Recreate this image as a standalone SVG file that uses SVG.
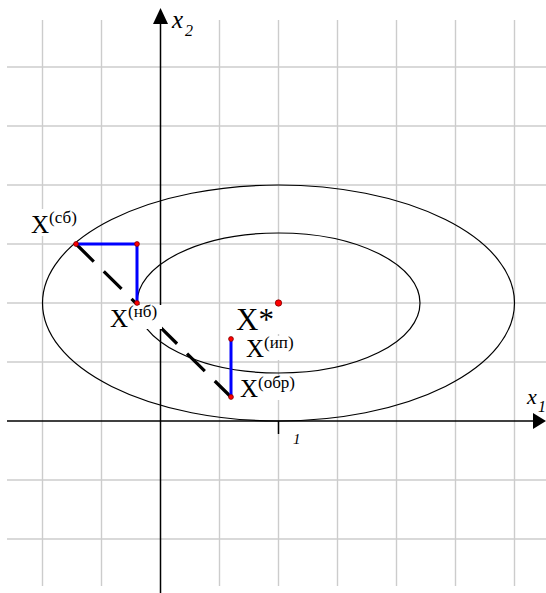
<svg xmlns="http://www.w3.org/2000/svg" width="546" height="593" viewBox="0 0 546 593">
<style>
.grid{stroke:#cccccc;stroke-width:1.4;fill:none}
.axis{stroke:#000;stroke-width:1.5;fill:none}
.ell{stroke:#000;stroke-width:1.2;fill:none}
.blue{stroke:#0000ff;stroke-width:3;fill:none}
.dash{stroke:#000;stroke-width:3.2;fill:none;stroke-dasharray:25 14}
.pt{fill:#ff0000;stroke:#800000;stroke-width:0.8}
.bg{fill:#fff}
.lbl{font-family:"Liberation Serif","Times New Roman",serif;fill:#000}
.big{font-size:25px}
.sup{font-size:17px}
.ax{font-family:"Liberation Serif","Times New Roman",serif;font-style:italic;fill:#000}
</style>
<rect width="546" height="593" fill="#fff"/>
<g id="grid" class="grid">
<line x1="42.5" y1="20" x2="42.5" y2="586"/>
<line x1="101.5" y1="20" x2="101.5" y2="586"/>
<line x1="219.5" y1="20" x2="219.5" y2="586"/>
<line x1="278.5" y1="20" x2="278.5" y2="586"/>
<line x1="337.5" y1="20" x2="337.5" y2="586"/>
<line x1="396.5" y1="20" x2="396.5" y2="586"/>
<line x1="455.5" y1="20" x2="455.5" y2="586"/>
<line x1="514.5" y1="20" x2="514.5" y2="586"/>
<line x1="7" y1="67" x2="546" y2="67"/>
<line x1="7" y1="126" x2="546" y2="126"/>
<line x1="7" y1="185" x2="546" y2="185"/>
<line x1="7" y1="244" x2="546" y2="244"/>
<line x1="7" y1="303" x2="546" y2="303"/>
<line x1="7" y1="362" x2="546" y2="362"/>
<line x1="7" y1="480" x2="546" y2="480"/>
<line x1="7" y1="539" x2="546" y2="539"/>
</g>
<g id="axes">
<line class="axis" x1="7" y1="421" x2="534" y2="421"/>
<polygon points="546,421 533,413 533,429" fill="#000"/>
<line class="axis" x1="160.5" y1="593" x2="160.5" y2="20"/>
<polygon points="160.5,8 153,24 168,24" fill="#000"/>
<line class="axis" x1="278.5" y1="421" x2="278.5" y2="434"/>
<text class="ax" x="172" y="28" font-size="25">x</text>
<text class="ax" x="185" y="36" font-size="16">2</text>
<text class="ax" x="527" y="404" font-size="22">x</text>
<text class="ax" x="538" y="412" font-size="16">1</text>
<text class="ax" x="293" y="444" font-size="15">1</text>
</g>
<g id="ellipses">
<ellipse class="ell" cx="278.5" cy="303" rx="236" ry="118"/>
<ellipse class="ell" cx="278.5" cy="303" rx="141.5" ry="70"/>
</g>
<g id="connectors">
<line class="dash" x1="76" y1="244" x2="231" y2="397"/>
<polyline class="blue" points="76,244 137,244 137,303"/>
<line class="blue" x1="231" y1="339" x2="231" y2="397"/>
</g>
<g id="X_sb">
<rect class="bg" x="29" y="209" width="50" height="27"/>
<text class="lbl" x="31" y="233"><tspan class="big">X</tspan><tspan class="sup" dy="-10">(сб)</tspan></text>
<circle class="pt" cx="76" cy="244" r="2.4"/>
</g>
<g id="corner">
<circle class="pt" cx="137" cy="244" r="2.4"/>
</g>
<g id="X_nb">
<rect class="bg" x="107" y="305" width="55" height="24"/>
<text class="lbl" x="110" y="327"><tspan class="big">X</tspan><tspan class="sup" dy="-10">(нб)</tspan></text>
<circle class="pt" cx="137" cy="303" r="2.4"/>
</g>
<g id="X_star">
<rect class="bg" x="234" y="306" width="48" height="28"/>
<text class="lbl" x="236" y="330" font-size="31">X*</text>
<circle class="pt" cx="278.5" cy="303" r="3.2"/>
</g>
<g id="X_ip">
<rect class="bg" x="244" y="336" width="54" height="24"/>
<text class="lbl" x="246" y="357"><tspan class="big">X</tspan><tspan class="sup" dy="-9">(ип)</tspan></text>
<circle class="pt" cx="231" cy="339" r="2.4"/>
</g>
<g id="X_obr">
<rect class="bg" x="238" y="377" width="62" height="23"/>
<text class="lbl" x="240" y="397"><tspan class="big">X</tspan><tspan class="sup" dy="-9">(обр)</tspan></text>
<circle class="pt" cx="231" cy="397" r="2.4"/>
</g>
</svg>
